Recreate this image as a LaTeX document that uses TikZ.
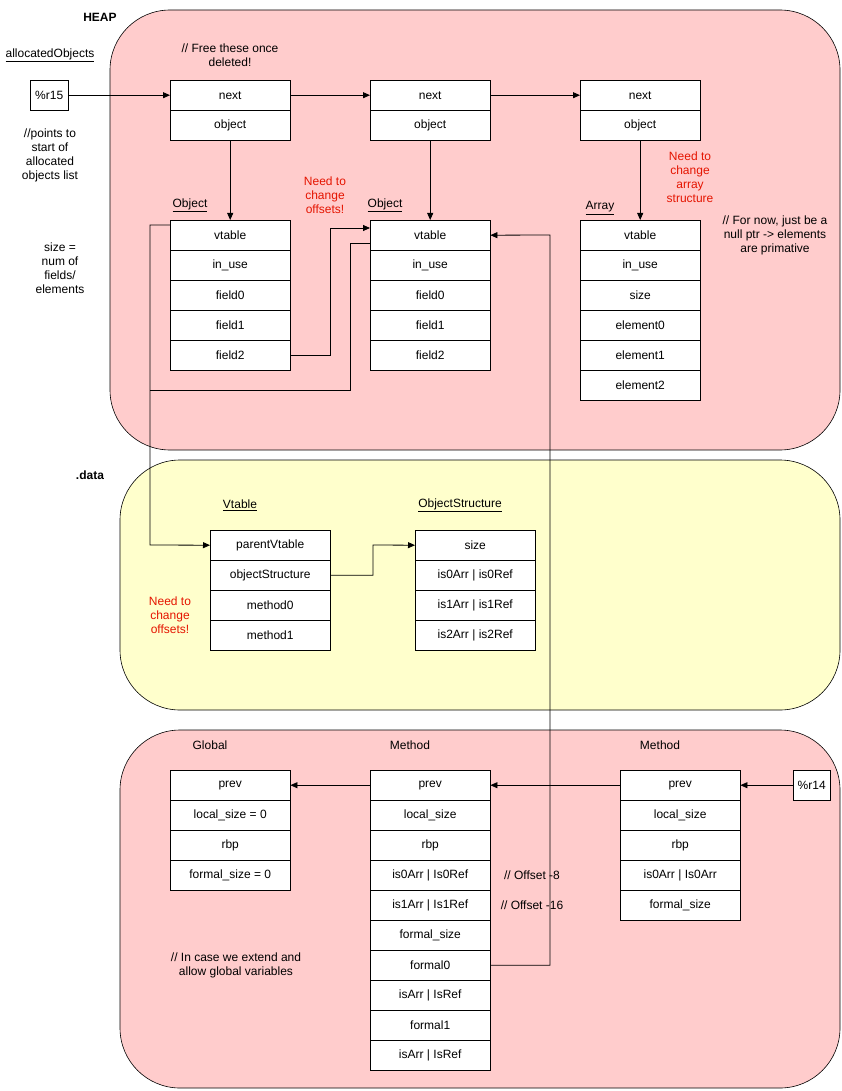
\documentclass[tikz,border=0pt]{standalone}
\usepackage{fontspec}
\setmainfont{Liberation Sans}
\usetikzlibrary{arrows.meta}
\definecolor{pk}{HTML}{FFCCCC}
\definecolor{yl}{HTML}{FFFFCC}
\definecolor{rd}{HTML}{E51400}
\tikzset{
 cell/.style={draw=black,fill=white,minimum width=120pt,minimum height=30pt,inner sep=0pt,anchor=north west,font=\fontsize{12}{14}\selectfont},
 reg/.style={draw=black,fill=white,minimum width=38pt,minimum height=30pt,inner sep=0pt,anchor=north west,font=\fontsize{12}{14}\selectfont},
 txt/.style={align=center,font=\fontsize{12}{14}\selectfont,inner sep=0pt},
 red/.style={txt,text=rd},
 lbl/.style={txt,font=\fontsize{12}{14}\selectfont\bfseries},
 ar/.style={-{Triangle[length=7pt,width=6pt]},line width=0.8pt},
 region/.style={draw=black,rounded corners=60pt,line width=0.6pt}
}
\newcommand{\stk}[4]{%
 \foreach \t [count=\i] in {#4}{\node[cell] (#1-\i) at (#2,{#3+30*(\i-1)}) {\t};}}
\begin{document}
\begin{tikzpicture}[x=1pt,y=-1pt]
\useasboundingbox (0,0) rectangle (841,1091);
\draw[region,fill=pk] (110,10) rectangle (840,450);
\draw[region,fill=yl] (120,460) rectangle (840,710);
\draw[region,fill=pk] (120,730) rectangle (840,1088);
\node[lbl] (heap) at (100,17) {HEAP};
\node[lbl] (data) at (90,475) {.data};
\node[txt] (ao) at (50,55) {\underline{allocatedObjects}};
\node[reg] (r15) at (30,80) {\%r15};
\node[txt] (pt) at (50,155) {//points to\\start of\\allocated\\objects list};
\node[txt] (sz) at (60,268) {size =\\num of\\fields/\\elements};
\node[txt] (free) at (230,55) {// Free these once\\deleted!};
\stk{n1}{170}{80}{next,object}
\stk{n2}{370}{80}{next,object}
\stk{n3}{580}{80}{next,object}
\node[txt] (ol1) at (190,205) {\underline{Object}};
\node[txt] (ol2) at (385,205) {\underline{Object}};
\node[txt] (al) at (600,208) {\underline{Array}};
\node[red] (nc1) at (325,195) {Need to\\change\\offsets!};
\node[red] (nc2) at (690,177) {Need to\\change\\array\\structure};
\node[txt] (fn) at (775,235) {// For now, just be a\\null ptr -> elements\\are primative};
\stk{o1}{170}{220}{vtable,in\_use,field0,field1,field2}
\stk{o2}{370}{220}{vtable,in\_use,field0,field1,field2}
\stk{a}{580}{220}{vtable,in\_use,size,element0,element1,element2}
\node[txt] (vl) at (240,505) {\underline{Vtable}};
\node[txt] (osl) at (460,505) {\underline{ObjectStructure}};
\stk{v}{210}{530}{parentVtable,objectStructure,method0,method1}
\stk{s}{415}{530}{size,is0Arr | is0Ref,is1Arr | is1Ref,is2Arr | is2Ref}
\node[red] (nc3) at (170,615) {Need to\\change\\offsets!};
\node[txt] (gl) at (210,745) {Global};
\node[txt] (ml1) at (410,745) {Method};
\node[txt] (ml2) at (660,745) {Method};
\stk{g}{170}{770}{prev,local\_size = 0,rbp,formal\_size = 0}
\stk{m}{370}{770}{prev,local\_size,rbp,is0Arr | Is0Ref,is1Arr | Is1Ref,formal\_size,formal0,isArr | IsRef,formal1,isArr | IsRef}
\stk{k}{620}{770}{prev,local\_size,rbp,is0Arr | Is0Arr,formal\_size}
\node[reg,minimum width=37pt] (r14) at (793,770) {\%r14};
\node[txt] (o8) at (532,875) {// Offset -8};
\node[txt] (o16) at (532,905) {// Offset -16};
\node[txt] (ic) at (236,965) {// In case we extend and\\allow global variables};
% connectors
\draw[ar] (r15.east) -- (n1-1.west);
\draw[ar] (n1-1.east) -- (n2-1.west);
\draw[ar] (n2-1.east) -- (n3-1.west);
\draw[ar] (n1-2.south-|o1-1.north) -- (o1-1.north);
\draw[ar] (n2-2.south) -- (o2-1.north);
\draw[ar] (n3-2.south) -- (a-1.north);
\coordinate (e1) at (370,228);
\draw[ar] (o1-5.east) -| (330,228) -- (e1);
\draw (370,243) -| (350,390) -- (150,390);
\draw[ar] (170,225) -| (150,545) -- (v-1.west);
\draw[ar] (v-2.east) -| (373,545) -- (s-1.west);
\draw[ar] (m-7.east) -| (550,235) -- (o2-1.east);
\draw[ar] (m-1.west) -- (g-1.east);
\draw[ar] (k-1.west) -- (m-1.east);
\draw[ar] (r14.west) -- (k-1.east);
\end{tikzpicture}
\end{document}
